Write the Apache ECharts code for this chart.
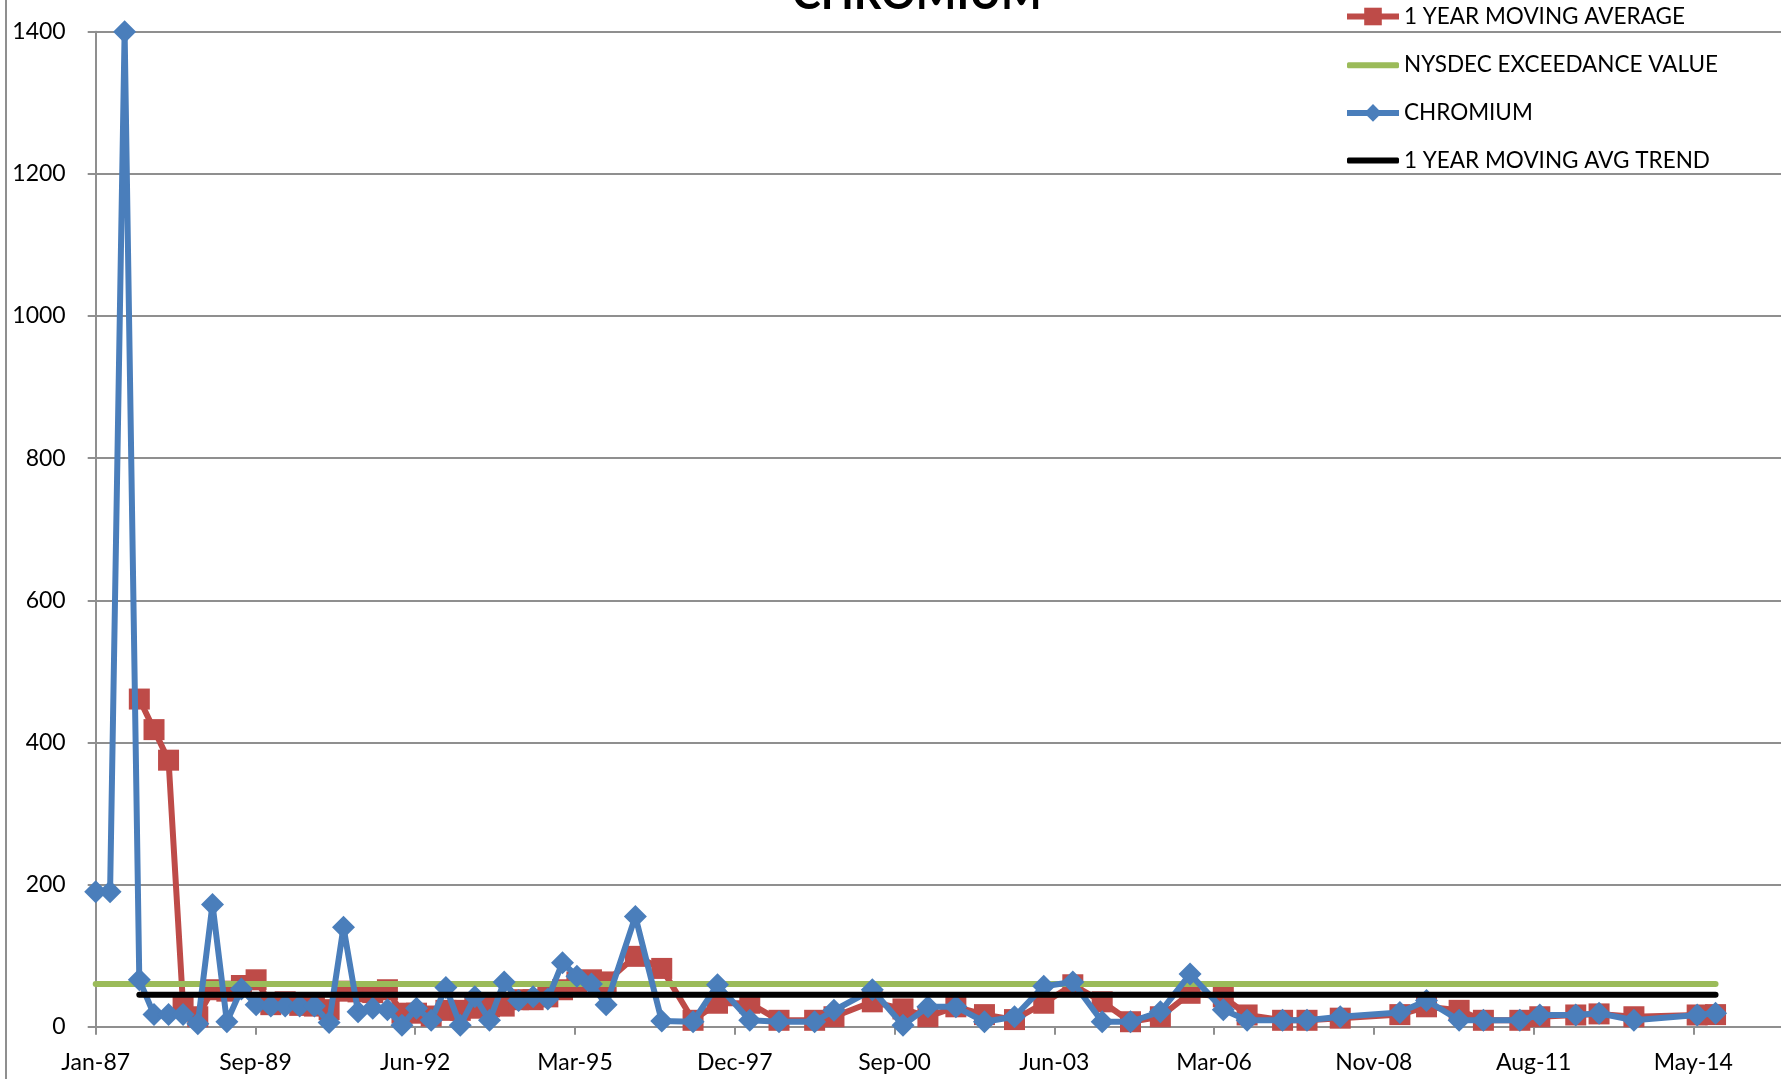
<!DOCTYPE html>
<html>
<head>
<meta charset="utf-8">
<script src="https://cdn.jsdelivr.net/npm/echarts@6/dist/echarts.min.js"></script>
<style>
  html, body { margin: 0; padding: 0; background: #fff; overflow: hidden; }
  #chart { width: 1900px; height: 1079px; }
</style>
</head>
<body>
<div id="chart"></div>
<script>
// Sampling dates of the well
const sampleDates = [
  '1987-01-01','1987-04-01','1987-07-01','1987-10-01',
  '1988-01-01','1988-04-01','1988-07-01','1988-10-01',
  '1989-01-01','1989-04-01','1989-07-01','1989-10-01',
  '1990-01-01','1990-04-01','1990-07-01','1990-10-01',
  '1991-01-01','1991-04-01','1991-07-01','1991-10-01',
  '1992-01-01','1992-04-01','1992-07-01','1992-10-01',
  '1993-01-01','1993-04-01','1993-07-01','1993-10-01',
  '1994-01-01','1994-04-01','1994-07-01','1994-10-01',
  '1995-01-01','1995-04-01','1995-07-01','1995-10-01',
  '1996-04-01','1996-09-13','1997-03-28','1997-08-28',
  '1998-03-18','1998-09-17','1999-04-28','1999-08-27',
  '2000-04-23','2000-11-01','2001-04-06','2001-09-28',
  '2002-03-26','2002-09-30','2003-04-01','2003-09-30',
  '2004-04-01','2004-09-25','2005-03-31','2005-10-03',
  '2006-04-29','2006-09-25','2007-05-05','2007-10-05',
  '2008-04-30','2009-05-08','2009-10-22','2010-05-14',
  '2010-10-13','2011-05-29','2011-10-01','2012-05-13',
  '2012-10-06','2013-05-12','2014-06-12','2014-10-05'
];

// Chromium concentration per sample
const chromium = [
  190, 190, 1400, 66,
  17, 17, 17, 4,
  172, 7, 53, 31,
  29, 29, 29, 29,
  6, 140, 21, 26,
  24, 2, 26, 9,
  55, 2, 42, 9,
  63, 37, 42, 39,
  90, 71, 60, 31,
  155, 8, 7, 59,
  9, 7, 7, 23,
  52, 2, 28, 28,
  7, 14, 57, 63,
  7, 7, 21, 74,
  24, 9, 9, 9,
  14, 20, 37, 9,
  9, 9, 16.5, 16.5,
  19, 9, 16.5, 19
];

// 1 year moving average, first value at the fourth sample
const movingAvgDates = sampleDates.slice(3);
const movingAvg = [
  461,
  418, 375, 29, 14,
  52, 50, 58, 66,
  31, 35, 30, 29,
  24, 50, 49, 48,
  52, 19, 19, 15,
  23, 23, 26, 28,
  29, 38, 38, 42,
  52, 63, 66, 63,
  99, 82, 9, 33,
  33, 9, 9, 14,
  35, 25, 14, 28,
  17, 10, 33, 59,
  35, 7, 14, 47,
  42, 16.5, 9, 9,
  12, 17, 28, 23,
  9, 9, 14, 16.5,
  18, 14, 16.5, 17
];

const exceedanceValue = 60;
const trendValue = 45;

// Date axis labels, one every 1000 days from 1 Jan 1987
const xTickLabels = ['Jan-87','Sep-89','Jun-92','Mar-95','Dec-97','Sep-00','Jun-03','Mar-06','Nov-08','Aug-11','May-14','Feb-17'];

const BASE = Date.UTC(1987, 0, 1);
const DAY = 86400000;
const toDay = d => (Date.parse(d + 'T00:00:00Z') - BASE) / DAY;

const chromiumData = sampleDates.map((d, i) => [toDay(d), chromium[i]]);
const movingAvgData = movingAvgDates.map((d, i) => [toDay(d), movingAvg[i]]);
const lastDay = toDay(sampleDates[sampleDates.length - 1]);
const exceedData = [[0, exceedanceValue], [lastDay, exceedanceValue]];
const trendData = [[toDay(movingAvgDates[0]), trendValue], [lastDay, trendValue]];

const FONT = 'Lato';
const GRID_GREY = '#8f8f8f';
const RED = '#be4b48', GREEN = '#9bbb59', BLUE = '#4a7ebb', BLACK = '#000';

// One legend block per entry so each icon can have its own shape
const legendText = { fontFamily: FONT, fontSize: 22.5, color: '#000', lineHeight: 22 };
function legendEntry(name, left, top, opts) {
  return Object.assign({
    orient: 'vertical', left: left, top: top, padding: 0,
    itemWidth: 52, itemHeight: 22, itemGap: 0,
    textStyle: legendText,
    lineStyle: { width: 6 },
    data: [name]
  }, opts || {});
}

const chart = echarts.init(document.getElementById('chart'));
chart.setOption({
  animation: false,
  backgroundColor: '#fff',
  textStyle: { fontFamily: FONT },
  grid: { left: 95.7, top: 31.7, bottom: 52.3, right: 46.9, outerBoundsMode: 'none', containLabel: false },
  graphic: [
    { type: 'line', shape: { x1: 6, y1: 0, x2: 6, y2: 1079 }, style: { stroke: GRID_GREY, lineWidth: 2 } },
    { type: 'text', x: 917, y: 16.5, style: { text: 'CHROMIUM', font: 'bold 43px Lato', fill: '#000', align: 'center', verticalAlign: 'bottom' } }
  ],
  legend: [
    legendEntry('1 YEAR MOVING AVERAGE', 1344, 5),
    legendEntry('NYSDEC EXCEEDANCE VALUE', 1347, 53.7, { itemHeight: 6, icon: 'roundRect' }),
    legendEntry('CHROMIUM', 1344, 101.4),
    legendEntry('1 YEAR MOVING AVG TREND', 1347, 149, { itemHeight: 6, icon: 'roundRect' })
  ],
  xAxis: {
    type: 'value',
    min: 0,
    max: 11000,
    interval: 1000,
    splitLine: { show: false },
    axisLine: { lineStyle: { color: GRID_GREY, width: 2 } },
    axisTick: { show: true, length: 8, lineStyle: { color: GRID_GREY, width: 2 } },
    axisLabel: {
      margin: 24.5,
      color: '#000',
      fontFamily: FONT,
      fontSize: 23,
      formatter: v => xTickLabels[Math.round(v / 1000)] || ''
    }
  },
  yAxis: {
    type: 'value',
    min: 0,
    max: 1400,
    interval: 200,
    axisLine: { show: true, lineStyle: { color: GRID_GREY, width: 2 } },
    axisTick: { show: true, length: 8, lineStyle: { color: GRID_GREY, width: 2 } },
    splitLine: { lineStyle: { color: GRID_GREY, width: 2 } },
    axisLabel: { margin: 30, color: '#000', fontFamily: FONT, fontSize: 23, formatter: v => String(v) }
  },
  series: [
    {
      name: '1 YEAR MOVING AVERAGE',
      type: 'line',
      data: movingAvgData,
      symbol: 'rect',
      symbolSize: 21,
      lineStyle: { color: RED, width: 6 },
      itemStyle: { color: RED },
      z: 2
    },
    {
      name: 'NYSDEC EXCEEDANCE VALUE',
      type: 'line',
      data: exceedData,
      symbol: 'none',
      lineStyle: { color: GREEN, width: 6, cap: 'round' },
      itemStyle: { color: GREEN },
      z: 3
    },
    {
      name: 'CHROMIUM',
      type: 'line',
      data: chromiumData,
      symbol: 'diamond',
      symbolSize: 23,
      lineStyle: { color: BLUE, width: 6 },
      itemStyle: { color: BLUE },
      z: 4
    },
    {
      name: '1 YEAR MOVING AVG TREND',
      type: 'line',
      data: trendData,
      symbol: 'none',
      lineStyle: { color: BLACK, width: 6, cap: 'round' },
      itemStyle: { color: BLACK },
      z: 5
    }
  ]
});
</script>
</body>
</html>
